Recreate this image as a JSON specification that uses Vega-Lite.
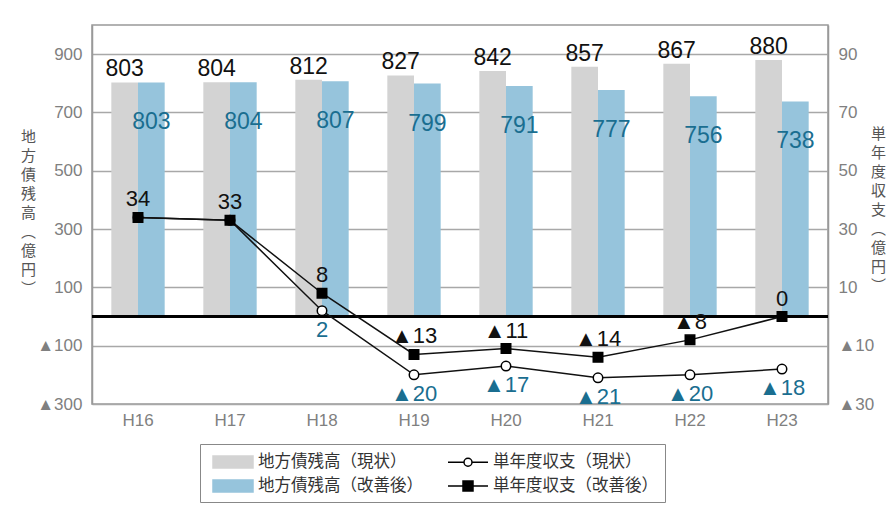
{
  "$schema": "https://vega.github.io/schema/vega-lite/v6.json",
  "width": 736,
  "height": 379,
  "autosize": {"type": "none"},
  "padding": {"left": 92, "top": 25, "right": 65, "bottom": 107},
  "background": "white",
  "config": {
    "view": {"stroke": "#999999", "strokeWidth": 1.5},
    "font": "Liberation Sans",
    "axis": {"labelFont": "Liberation Sans", "titleFont": "Noto Sans CJK JP"}
  },
  "datasets": {
    "bars": [
      {"year": "H16", "series": "地方債残高（現状）", "value": 803},
      {"year": "H17", "series": "地方債残高（現状）", "value": 804},
      {"year": "H18", "series": "地方債残高（現状）", "value": 812},
      {"year": "H19", "series": "地方債残高（現状）", "value": 827},
      {"year": "H20", "series": "地方債残高（現状）", "value": 842},
      {"year": "H21", "series": "地方債残高（現状）", "value": 857},
      {"year": "H22", "series": "地方債残高（現状）", "value": 867},
      {"year": "H23", "series": "地方債残高（現状）", "value": 880},
      {"year": "H16", "series": "地方債残高（改善後）", "value": 803},
      {"year": "H17", "series": "地方債残高（改善後）", "value": 804},
      {"year": "H18", "series": "地方債残高（改善後）", "value": 807},
      {"year": "H19", "series": "地方債残高（改善後）", "value": 799},
      {"year": "H20", "series": "地方債残高（改善後）", "value": 791},
      {"year": "H21", "series": "地方債残高（改善後）", "value": 777},
      {"year": "H22", "series": "地方債残高（改善後）", "value": 756},
      {"year": "H23", "series": "地方債残高（改善後）", "value": 738}
    ],
    "lines": [
      {"year": "H16", "series": "単年度収支（現状）", "value": 34, "label": ""},
      {"year": "H17", "series": "単年度収支（現状）", "value": 33, "label": ""},
      {"year": "H18", "series": "単年度収支（現状）", "value": 2, "label": "2"},
      {"year": "H19", "series": "単年度収支（現状）", "value": -20, "label": "▲20"},
      {"year": "H20", "series": "単年度収支（現状）", "value": -17, "label": "▲17"},
      {"year": "H21", "series": "単年度収支（現状）", "value": -21, "label": "▲21"},
      {"year": "H22", "series": "単年度収支（現状）", "value": -20, "label": "▲20"},
      {"year": "H23", "series": "単年度収支（現状）", "value": -18, "label": "▲18"},
      {"year": "H16", "series": "単年度収支（改善後）", "value": 34, "label": "34"},
      {"year": "H17", "series": "単年度収支（改善後）", "value": 33, "label": "33"},
      {"year": "H18", "series": "単年度収支（改善後）", "value": 8, "label": "8"},
      {"year": "H19", "series": "単年度収支（改善後）", "value": -13, "label": "▲13"},
      {"year": "H20", "series": "単年度収支（改善後）", "value": -11, "label": "▲11"},
      {"year": "H21", "series": "単年度収支（改善後）", "value": -14, "label": "▲14"},
      {"year": "H22", "series": "単年度収支（改善後）", "value": -8, "label": "▲8"},
      {"year": "H23", "series": "単年度収支（改善後）", "value": 0, "label": "0"}
    ]
  },
  "encoding": {
    "x": {
      "field": "year",
      "type": "nominal",
      "sort": null,
      "scale": {"paddingInner": 0.42, "paddingOuter": 0.21},
      "axis": {
        "title": null,
        "labelAngle": 0,
        "labelColor": "#808080",
        "labelFontSize": 17,
        "labelPadding": 8,
        "ticks": false,
        "domain": false
      }
    }
  },
  "layer": [
    {
      "data": {"name": "bars"},
      "encoding": {
        "y": {
          "field": "value",
          "type": "quantitative",
          "scale": {"domain": [-300, 1000], "nice": false, "zero": false},
          "axis": {
            "orient": "left",
            "values": [-300, -100, 100, 300, 500, 700, 900],
            "labelExpr": "datum.value < 0 ? '▲' + abs(datum.value) : datum.value",
            "labelColor": "#808080",
            "labelFontSize": 17,
            "labelPadding": 10,
            "ticks": false,
            "domain": true,
            "domainColor": "#999999",
            "domainWidth": 1.5,
            "grid": true,
            "gridColor": "#a8a8a8",
            "gridWidth": 1.5,
            "title": ["地", "方", "債", "残", "高", "︵", "億", "円", "︶"],
            "titleAngle": 0,
            "titleFontSize": 15,
            "titleFontWeight": "normal",
            "titleColor": "#555555",
            "titleLineHeight": 19,
            "titleX": -64,
            "titleY": 104,
            "titleAlign": "center",
            "titleBaseline": "top"
          }
        }
      },
      "layer": [
        {
          "mark": {"type": "bar"},
          "encoding": {
            "xOffset": {"field": "series", "type": "nominal", "scale": {"domain": ["地方債残高（現状）", "地方債残高（改善後）"], "paddingInner": 0}},
            "fill": {
              "field": "series",
              "type": "nominal",
              "scale": {
                "domain": ["地方債残高（現状）", "地方債残高（改善後）", "単年度収支（現状）", "単年度収支（改善後）"],
                "range": ["#d3d3d3", "#96c4dc", "#ffffff", "#000000"]
              }
            }
          }
        },
        {
          "mark": {"type": "rule", "color": "#000000", "strokeWidth": 1.5},
          "encoding": {"y": {"datum": 0}, "x": null}
        },
        {
          "transform": [{"filter": "datum.series === '地方債残高（現状）'"}],
          "mark": {"type": "text", "fontSize": 23, "color": "#111111", "baseline": "alphabetic", "dy": -6},
          "encoding": {
            "xOffset": {"field": "series", "type": "nominal", "scale": {"domain": ["地方債残高（現状）", "地方債残高（改善後）"], "paddingInner": 0}},
            "text": {"field": "value", "type": "quantitative"}
          }
        },
        {
          "transform": [{"filter": "datum.series === '地方債残高（改善後）'"}],
          "mark": {"type": "text", "fontSize": 23, "color": "#1a6e90", "baseline": "middle", "dy": 40},
          "encoding": {
            "xOffset": {"field": "series", "type": "nominal", "scale": {"domain": ["地方債残高（現状）", "地方債残高（改善後）"], "paddingInner": 0}},
            "text": {"field": "value", "type": "quantitative"}
          }
        }
      ]
    },
    {
      "data": {"name": "lines"},
      "encoding": {
        "y": {
          "field": "value",
          "type": "quantitative",
          "scale": {"domain": [-30, 100], "nice": false, "zero": false},
          "axis": {
            "orient": "right",
            "values": [-30, -10, 10, 30, 50, 70, 90],
            "labelExpr": "datum.value < 0 ? '▲' + abs(datum.value) : datum.value",
            "labelColor": "#808080",
            "labelFontSize": 17,
            "labelPadding": 10,
            "ticks": false,
            "grid": false,
            "domain": true,
            "domainColor": "#999999",
            "domainWidth": 1.5,
            "title": ["単", "年", "度", "収", "支", "︵", "億", "円", "︶"],
            "titleAngle": 0,
            "titleFontSize": 15,
            "titleFontWeight": "normal",
            "titleColor": "#555555",
            "titleLineHeight": 19,
            "titleX": 50,
            "titleY": 101,
            "titleAlign": "center",
            "titleBaseline": "top"
          }
        }
      },
      "layer": [
        {
          "mark": {"type": "line", "color": "#111111", "strokeWidth": 1.5},
          "encoding": {"detail": {"field": "series", "type": "nominal"}}
        },
        {
          "mark": {"type": "point", "filled": false, "size": 90, "stroke": "#000000", "strokeWidth": 1.5, "opacity": 1},
          "encoding": {
            "fill": {"field": "series", "type": "nominal"},
            "shape": {"condition": {"test": "datum.series === '単年度収支（現状）'", "value": "circle"}, "value": "square"}
          }
        },
        {
          "mark": {"type": "point", "opacity": 0, "filled": true},
          "encoding": {
            "fill": {"field": "series", "type": "nominal"},
            "stroke": {
              "field": "series",
              "type": "nominal",
              "scale": {
                "domain": ["地方債残高（現状）", "地方債残高（改善後）", "単年度収支（現状）", "単年度収支（改善後）"],
                "range": ["#d3d3d3", "#96c4dc", "#000000", "#000000"]
              }
            },
            "shape": {
              "field": "series",
              "type": "nominal",
              "scale": {
                "domain": ["地方債残高（現状）", "地方債残高（改善後）", "単年度収支（現状）", "単年度収支（改善後）"],
                "range": [
                  "M-2,-0.6H2V0.6H-2Z",
                  "M-2,-0.6H2V0.6H-2Z",
                  "M-2,0H-0.4M0.4,0H2M0.4,0A0.4,0.4,0,1,1,-0.4,0A0.4,0.4,0,1,1,0.4,0Z",
                  "M-2,0H2M-0.5,-0.5H0.5V0.5H-0.5Z"
                ]
              },
              "legend": {
                "title": null,
                "orient": "none",
                "legendX": 108,
                "legendY": 419,
                "columns": 2,
                "columnPadding": 19,
                "rowPadding": 4,
                "padding": 7,
                "strokeColor": "#888888",
                "fillColor": "#ffffff",
                "labelFont": "Noto Sans CJK JP",
                "labelFontSize": 16.5,
                "labelColor": "#333333",
                "labelOffset": 14,
                "labelLimit": 300,
                "symbolSize": 400,
                "symbolOffset": 15,
                "symbolStrokeWidth": 1.5,
                "symbolOpacity": 1
              }
            }
          }
        },
        {
          "transform": [{"filter": "datum.series === '単年度収支（改善後）'"}],
          "mark": {"type": "text", "fontSize": 22, "color": "#111111", "baseline": "alphabetic", "dy": -11},
          "encoding": {"text": {"field": "label", "type": "nominal"}}
        },
        {
          "transform": [{"filter": "datum.series === '単年度収支（現状）'"}],
          "mark": {"type": "text", "fontSize": 22, "color": "#1a6e90", "baseline": "top", "dy": 9},
          "encoding": {"text": {"field": "label", "type": "nominal"}}
        }
      ]
    }
  ],
  "resolve": {"scale": {"y": "independent"}}
}
